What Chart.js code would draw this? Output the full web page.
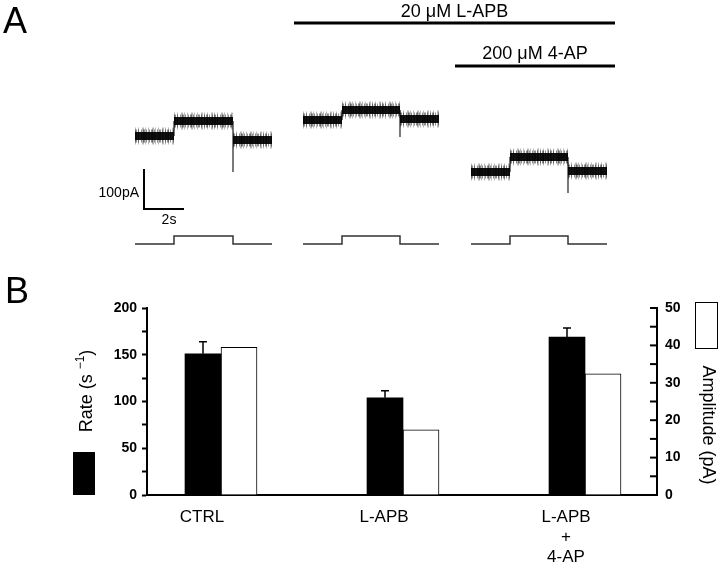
<!DOCTYPE html>
<html>
<head>
<meta charset="utf-8">
<script src="https://cdn.jsdelivr.net/npm/chart.js@4.4.1/dist/chart.umd.min.js"></script>
<style>
  html, body { margin: 0; padding: 0; background: #fff; }
  #wrap { position: relative; width: 720px; height: 570px; overflow: hidden; background: #fff;
          font-family: "Liberation Sans", Arial, sans-serif; }
  .plabel { position: absolute; font-size: 36px; line-height: 36px; color: #000; }
  #ca { position: absolute; left: 0; top: 0; }
  #cb { position: absolute; left: 0; top: 270px; }
</style>
</head>
<body>
<div id="wrap">
  <canvas id="ca" width="720" height="270"></canvas>
  <canvas id="cb" width="720" height="300"></canvas>
  <div class="plabel" style="left:3px;top:3px;">A</div>
  <div class="plabel" style="left:5px;top:273px;">B</div>
</div>
<script>
// ================= Panel A : current traces =================
const traceStart  = [2.25, 10.65, 19.05];   // s
const stepOn      = [4.2, 12.6, 21.0];      // s
const stepOff     = [7.15, 15.5, 23.9];     // s
const traceEnd    = [9.1, 17.45, 25.85];    // s
const levelBefore = [-115, -75, -205];      // pA
const levelDuring = [-77.5, -50, -167.5];   // pA
const levelAfter  = [-125, -72.5, -202.5];  // pA
const offsetSpike = [-205, -117.5, -257.5]; // pA
const stimBase    = [-385, -385, -385];     // monitor trace, low
const stimHigh    = [-365, -365, -365];     // monitor trace, high
const scaleBarTime    = [2.7, 4.7];         // s  (2 s)
const scaleBarCurrent = [-297.5, -197.5];   // pA (100 pA)
const drugNames = ['20 μM L-APB', '200 μM 4-AP'];
const drugStart = [10.2, 18.25];            // s
const drugEnd   = [26.25, 26.25];           // s

// ================= Panel B : bar chart =================
const categories = ['CTRL', 'L-APB', ['L-APB', '+', '4-AP']];
const rate       = [151, 104, 169];         // s^-1
const rateSEM    = [13, 7.5, 9.5];
const amplitude  = [39.5, 17.4, 32.4];      // pA
const rateTicks  = [0, 50, 100, 150, 200];
const ampTicks   = [0, 10, 20, 30, 40, 50];

const FONT = '"Liberation Sans", Arial, Helvetica, sans-serif';

// ---------- build panel A datasets ----------
const gap = t => ({ x: t, y: null });
const segPts = [], transPts = [], stimPts = [];
for (let i = 0; i < traceStart.length; i++) {
  segPts.push(
    { x: traceStart[i], y: levelBefore[i] }, { x: stepOn[i], y: levelBefore[i] }, gap(stepOn[i]),
    { x: stepOn[i], y: levelDuring[i] }, { x: stepOff[i], y: levelDuring[i] }, gap(stepOff[i]),
    { x: stepOff[i], y: levelAfter[i] }, { x: traceEnd[i], y: levelAfter[i] }, gap(traceEnd[i])
  );
  transPts.push(
    { x: stepOn[i], y: levelBefore[i] }, { x: stepOn[i], y: levelDuring[i] }, gap(stepOn[i]),
    { x: stepOff[i], y: levelDuring[i] }, { x: stepOff[i], y: offsetSpike[i] }, gap(stepOff[i])
  );
  stimPts.push(
    { x: traceStart[i], y: stimBase[i] }, { x: stepOn[i], y: stimBase[i] },
    { x: stepOn[i], y: stimHigh[i] }, { x: stepOff[i], y: stimHigh[i] },
    { x: stepOff[i], y: stimBase[i] }, { x: traceEnd[i], y: stimBase[i] }, gap(traceEnd[i])
  );
}
const scaleBarPts = [
  { x: scaleBarTime[0], y: scaleBarCurrent[1] },
  { x: scaleBarTime[0], y: scaleBarCurrent[0] },
  { x: scaleBarTime[1], y: scaleBarCurrent[0] }
];

const lineDs = (label, data, color, width, extra) => Object.assign({
  label, data, borderColor: color, borderWidth: width, pointRadius: 0, fill: false,
  tension: 0, spanGaps: false, borderCapStyle: 'butt', borderJoinStyle: 'miter'
}, extra || {});

const panelADecor = {
  id: 'panelADecor',
  afterDatasetsDraw(chart) {
    const { ctx, scales: { x, y } } = chart;
    ctx.save();
    ctx.fillStyle = '#000'; ctx.strokeStyle = '#000';
    const barY = [23, 66], labY = [12, 54];
    drugNames.forEach((name, i) => {
      const x0 = x.getPixelForValue(drugStart[i]), x1 = x.getPixelForValue(drugEnd[i]);
      ctx.lineWidth = 3;
      ctx.beginPath(); ctx.moveTo(x0, barY[i]); ctx.lineTo(x1, barY[i]); ctx.stroke();
      ctx.font = '18px ' + FONT; ctx.textAlign = 'center'; ctx.textBaseline = 'middle';
      ctx.fillText(name, (x0 + x1) / 2, labY[i]);
    });
    const sx0 = x.getPixelForValue(scaleBarTime[0]), sx1 = x.getPixelForValue(scaleBarTime[1]);
    const sy0 = y.getPixelForValue(scaleBarCurrent[0]), sy1 = y.getPixelForValue(scaleBarCurrent[1]);
    ctx.font = '14px ' + FONT; ctx.textBaseline = 'middle';
    ctx.textAlign = 'right'; ctx.fillText('100pA', sx0 - 5, (sy0 + sy1) / 2 + 4);
    ctx.textAlign = 'center'; ctx.fillText('2s', (sx0 + sx1) / 2 + 5, sy0 + 11);
    ctx.restore();
  }
};

new Chart(document.getElementById('ca'), {
  type: 'line',
  data: {
    datasets: [
      lineDs('noise (outer)', segPts, 'rgba(0,0,0,0.28)', 17, { borderDash: [1, 2, 1, 3, 2, 1] }),
      lineDs('noise (inner)', segPts, 'rgba(0,0,0,0.45)', 13, { borderDash: [2, 1, 1, 2, 1, 1] }),
      lineDs('current', segPts, '#111', 8),
      lineDs('transitions', transPts, '#222', 1.2),
      lineDs('stimulus', stimPts, '#333', 1.5),
      lineDs('scale bar', scaleBarPts, '#000', 2)
    ]
  },
  options: {
    responsive: false, animation: false,
    layout: { padding: 0 },
    plugins: { legend: { display: false }, tooltip: { enabled: false } },
    scales: {
      x: { type: 'linear', display: false, min: -4.5, max: 31.5 },
      y: { type: 'linear', display: false, min: -450, max: 225 }
    }
  },
  plugins: [panelADecor]
});

// ---------- panel B ----------
const panelBDecor = {
  id: 'panelBDecor',
  afterDatasetsDraw(chart) {
    const { ctx, chartArea, scales } = chart;
    ctx.save();
    ctx.strokeStyle = '#000'; ctx.fillStyle = '#000';
    // error bars (upward only)
    ctx.lineWidth = 1.5;
    chart.getDatasetMeta(0).data.forEach((bar, i) => {
      const yTop = scales.y.getPixelForValue(rate[i]);
      const yErr = scales.y.getPixelForValue(rate[i] + rateSEM[i]);
      ctx.beginPath();
      ctx.moveTo(bar.x, yTop); ctx.lineTo(bar.x, yErr);
      ctx.moveTo(bar.x - 4, yErr); ctx.lineTo(bar.x + 4, yErr);
      ctx.stroke();
    });
    // inward tick marks of right axis
    ctx.lineWidth = 2;
    scales.y1.ticks.forEach(t => {
      const yy = scales.y1.getPixelForValue(t.value);
      ctx.beginPath(); ctx.moveTo(chartArea.right - 7, yy); ctx.lineTo(chartArea.right, yy); ctx.stroke();
    });
    // legend keys
    ctx.fillRect(73, 182, 22, 43);
    ctx.lineWidth = 1;
    ctx.fillStyle = '#fff';
    ctx.fillRect(695.5, 32.5, 22, 46);
    ctx.strokeRect(695.5, 32.5, 22, 46);
    ctx.fillStyle = '#000';
    // left axis title with superscript
    ctx.save();
    ctx.translate(87, 121); ctx.rotate(-Math.PI / 2);
    ctx.textBaseline = 'middle'; ctx.textAlign = 'left';
    const mainF = '18px ' + FONT, supF = '12px ' + FONT;
    ctx.font = mainF; const w1 = ctx.measureText('Rate (s ').width; const w3 = ctx.measureText(')').width;
    ctx.font = supF; const w2 = ctx.measureText('−1').width;
    let sx = -(w1 + w2 + w3) / 2;
    ctx.font = mainF; ctx.fillText('Rate (s ', sx, 0); sx += w1;
    ctx.font = supF; ctx.fillText('−1', sx, -6); sx += w2;
    ctx.font = mainF; ctx.fillText(')', sx, 0);
    ctx.restore();
    // right axis title
    ctx.save();
    ctx.translate(708, 155); ctx.rotate(Math.PI / 2);
    ctx.font = '18px ' + FONT; ctx.textAlign = 'center'; ctx.textBaseline = 'middle';
    ctx.fillText('Amplitude (pA)', 0, 0);
    ctx.restore();
    ctx.restore();
  }
};

new Chart(document.getElementById('cb'), {
  type: 'bar',
  data: {
    datasets: [
      { label: 'Rate (s⁻¹)', data: rate.map((v, i) => ({ x: i, y: v })), backgroundColor: '#000',
        borderWidth: 0, yAxisID: 'y', barThickness: 36 },
      { label: 'Amplitude (pA)', data: amplitude.map((v, i) => ({ x: i, y: v })), backgroundColor: '#fff',
        borderColor: '#000', borderWidth: 1, borderSkipped: 'start', yAxisID: 'y1', barThickness: 36 }
    ]
  },
  options: {
    responsive: false, animation: false,
    layout: { padding: { top: 38, left: 0, right: 0, bottom: 0 } },
    plugins: { legend: { display: false }, tooltip: { enabled: false } },
    scales: {
      x: {
        type: 'linear', min: -0.4066, max: 2.3956, offset: false,
        grid: { display: false, drawTicks: false },
        border: { display: true, width: 2, color: '#000' },
        afterBuildTicks: s => { s.ticks = categories.map((c, i) => ({ value: i })); },
        ticks: { autoSkip: false, maxRotation: 0, padding: 12, labelOffset: -19, color: '#000',
                 font: { family: FONT, size: 17, lineHeight: 1.18 },
                 callback: v => categories[v] },
        afterFit: s => { s.height = 75; }
      },
      y: {
        position: 'left', min: 0, max: 200,
        grid: { display: true, drawOnChartArea: false, drawTicks: true, tickLength: 5, tickWidth: 2,
                tickColor: '#000', color: '#000' },
        border: { display: true, width: 2, color: '#000' },
        ticks: { stepSize: 25, autoSkip: false, padding: 5, color: '#000',
                 font: { family: FONT, size: 14, weight: 'bold' },
                 callback: v => rateTicks.includes(v) ? String(v) : '' },
        afterFit: s => { s.width = 147; }
      },
      y1: {
        position: 'right', min: 0, max: 50,
        grid: { display: true, drawOnChartArea: false, drawTicks: false, color: '#000' },
        border: { display: true, width: 2, color: '#000' },
        ticks: { stepSize: 5, autoSkip: false, padding: 8, color: '#000',
                 font: { family: FONT, size: 14, weight: 'bold' },
                 callback: v => ampTicks.includes(v) ? String(v) : '' },
        afterFit: s => { s.width = 63; }
      }
    }
  },
  plugins: [panelBDecor]
});
</script>
</body>
</html>
